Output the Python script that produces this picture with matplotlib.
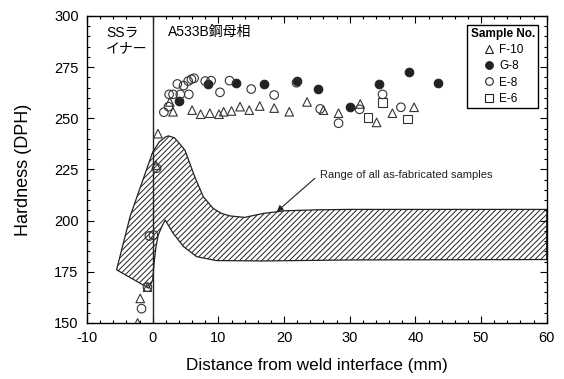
import numpy as np
import matplotlib
matplotlib.use('Agg')
import matplotlib.pyplot as plt
from matplotlib.lines import Line2D
from matplotlib.ticker import MultipleLocator

plt.rcParams['font.family'] = ['Liberation Sans', 'Noto Sans CJK JP', 'DejaVu Sans']
plt.rcParams['hatch.linewidth'] = 0.7
plt.rcParams['axes.unicode_minus'] = False

# sample data (distance mm, hardness DPH)
f10_x = [-2.3, -1.9, -0.8, 0.5, 0.8, 2.6, 3.1, 6.0, 7.3, 8.7, 10.1, 10.8, 12.0, 13.3,
         14.7, 16.3, 18.5, 20.8, 23.5, 26.0, 28.3, 31.6, 34.1, 36.5, 39.8]
f10_y = [150, 162, 167.5, 227, 242.5, 258, 253.2, 254, 252, 252.5, 252, 253.2, 253.6, 255.7,
         254, 256, 255, 253.2, 258, 254, 252.5, 257, 248, 252.5, 255.4]

g8_x = [4.0, 8.4, 12.7, 16.9, 21.9, 25.1, 30.0, 34.5, 39.0, 43.4]
g8_y = [258.5, 266.8, 267.4, 266.8, 268.2, 264.3, 255.4, 266.6, 272.5, 267.4]

e8_x = [-1.7, -0.8, -0.5, 0.1, 0.6, 1.7, 2.4, 2.5, 3.1, 4.2, 5.5, 3.75, 4.7, 5.4, 5.9,
        6.3, 8.0, 8.9, 10.25, 11.7, 15.0, 18.5, 21.9, 25.5, 28.3, 31.5, 35.0, 37.8]
e8_y = [157, 167.5, 192.5, 193, 225.6, 253, 255.7, 261.7, 261.7, 261.7, 261.7, 266.8, 266, 268.2, 269.1,
        269.6, 268.2, 268.4, 262.7, 268.4, 264.3, 261.4, 267.4, 254.6, 247.6, 254.4, 261.7, 255.4]

e6_x = [32.8, 35.0, 38.8]
e6_y = [250.5, 257.6, 249.7]

# outline of the hatched band
band_up_x = [-5.5, -3.4, 0, 1, 2, 2.4, 3.3, 4, 4.9, 6.4, 7.7, 9.2, 10.5, 11.8, 14, 16.8, 20, 25, 30, 60]
band_up_y = [176, 202.5, 233.5, 238.5, 241, 241.4, 240.5, 238, 234.5, 221.5, 211.7, 206, 203.5, 202.3, 201.6,
             203.5, 204.8, 205.3, 205.5, 205.5]
band_lo_x = [60, 30, 16.8, 9.7, 6.7, 4.7, 3.1, 1.9, 1.37, 0.85, 0.5, 0.2, 0.0, -0.6]
band_lo_y = [181, 180.8, 180.3, 180.5, 182.4, 187.3, 193.9, 200.3, 197, 193, 187.3, 179, 171, 167]

fig = plt.figure(figsize=(5.64, 3.79), dpi=100, facecolor='w')
ax = fig.add_axes([0.1543, 0.1478, 0.8151, 0.8100])

bx = band_up_x + band_lo_x
by = band_up_y + band_lo_y
ax.fill(bx, by, facecolor='none', edgecolor='#222222', hatch='//////', lw=0.9)

ax.axvline(0, color='#222222', lw=1.0)

ms = 38
ax.scatter(f10_x, f10_y, marker='^', s=ms, facecolors='none', edgecolors='#333333', linewidths=0.8, zorder=3)
ax.scatter(g8_x, g8_y, marker='o', s=ms, facecolors='#222222', edgecolors='#222222', linewidths=0.8, zorder=3)
ax.scatter(e8_x, e8_y, marker='o', s=ms, facecolors='none', edgecolors='#333333', linewidths=0.8, zorder=3)
ax.scatter(e6_x, e6_y, marker='s', s=ms, facecolors='none', edgecolors='#333333', linewidths=0.8, zorder=3)

ax.annotate('', xy=(18.9, 204.4), xytext=(24.7, 220.7),
            arrowprops=dict(arrowstyle='-|>', color='#222222', lw=0.8, mutation_scale=9,
                            shrinkA=0, shrinkB=0))
ax.text(25.4, 222.3, 'Range of all as-fabricated samples', fontsize=8, ha='left', va='center', color='#222222')

ax.text(-7.1, 295.5, 'SSラ\nイナー', fontsize=10, ha='left', va='top', linespacing=1.15)
ax.text(2.4, 292, 'A533B鋼母相', fontsize=10, ha='left', va='center')

ax.set_xlim(-10, 60)
ax.set_ylim(150, 300)
ax.xaxis.set_major_locator(MultipleLocator(10))
ax.xaxis.set_minor_locator(MultipleLocator(2))
ax.yaxis.set_major_locator(MultipleLocator(25))
ax.yaxis.set_minor_locator(MultipleLocator(5))
ax.tick_params(which='both', direction='in', top=True, right=True, labelsize=10.5, pad=6, width=0.8)
ax.tick_params(which='major', length=5)
ax.tick_params(which='minor', length=2.5)
for s in ax.spines.values():
    s.set_linewidth(1.0)

ax.set_xlabel('Distance from weld interface (mm)', fontsize=12.3, labelpad=9)
ax.set_ylabel('Hardness (DPH)', fontsize=13, labelpad=16)

handles = [
    Line2D([], [], ls='none', marker='^', ms=5.5, mfc='none', mec='#222222', mew=0.8),
    Line2D([], [], ls='none', marker='o', ms=5.5, mfc='#222222', mec='#222222', mew=0.8),
    Line2D([], [], ls='none', marker='o', ms=5.5, mfc='none', mec='#222222', mew=0.8),
    Line2D([], [], ls='none', marker='s', ms=5.5, mfc='none', mec='#222222', mew=0.8),
]
leg = ax.legend(handles, ['F-10', 'G-8', 'E-8', 'E-6'], title='Sample No.', loc='upper right',
                bbox_to_anchor=(0.982, 0.972), borderaxespad=0, fancybox=False, frameon=True,
                edgecolor='black', fontsize=8.5, title_fontsize=8.5, handletextpad=0.3,
                handlelength=1.2, labelspacing=0.35, borderpad=0.3)
leg.get_title().set_fontweight('bold')
leg.get_frame().set_linewidth(1.0)
leg.get_frame().set_alpha(1)

fig.savefig('out.png', dpi=100)
